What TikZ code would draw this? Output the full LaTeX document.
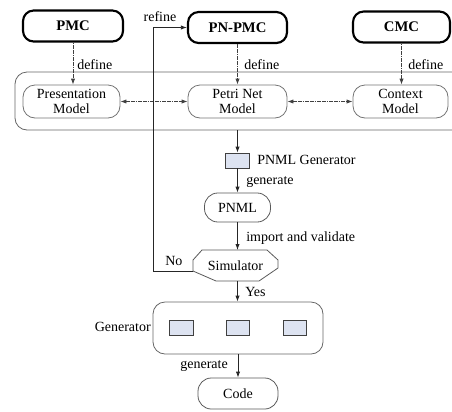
\documentclass[tikz,border=0pt]{standalone}
\usepackage{fontspec}
\setmainfont{Liberation Serif}
\usetikzlibrary{arrows.meta}
\definecolor{toolfill}{HTML}{DDE3F1}
\begin{document}
\begin{tikzpicture}[x=0.75pt,y=-0.75pt,
  font=\fontsize{10.5}{11.5}\selectfont,
  every node/.style={inner sep=0pt},
  concept/.style={draw, line width=1.6pt, rounded corners=8pt,
    font=\fontsize{11}{12}\selectfont\bfseries, minimum height=23.25pt},
  model/.style={draw=black!55, line width=0.6pt, rounded corners=9pt,
    align=center, minimum height=24.75pt},
  group/.style={draw=black!60, line width=0.6pt, rounded corners=9pt},
  term/.style={draw=black!65, line width=0.6pt, rounded corners=10pt},
  tool/.style={draw=black!75, fill=toolfill, line width=0.6pt,
    minimum width=17.5pt, minimum height=11.25pt},
  tip/.tip={Latex[length=4.5pt,width=3.2pt]},
  flow/.style={-tip, line width=0.6pt, draw=black!85},
  defarrow/.style={-tip, line width=0.6pt, draw=black!75,
    dash pattern=on 1.3pt off 0.5pt},
  lbl/.style={anchor=west}
]
\useasboundingbox (0,0) rectangle (452,411);
\clip (0,0) rectangle (452,411);

% concept models
\node[concept, minimum width=75pt]    (pmc)   at (73,26)    {PMC};
\node[concept, minimum width=74.25pt] (pnpmc) at (237.5,27.5) {PN-PMC};
\node[concept, minimum width=72.75pt] (cmc)   at (401.5,27) {CMC};

% model group
\node[group, minimum width=341.25pt, minimum height=43.5pt] (modelgroup) at (242.5,101) {};
\node[model, minimum width=72.75pt] (pres)  at (71.5,101.5)  {Presentation\\Model};
\node[model, minimum width=74.25pt] (petri) at (237.5,101.5) {Petri Net\\Model};
\node[model, minimum width=71.25pt] (ctx)   at (400.5,101.5) {Context\\Model};

\draw[defarrow] (pmc.south) -- (pmc.south |- pres.north);
\draw[defarrow] (pnpmc) -- (petri);
\draw[defarrow] (cmc.south) -- (cmc.south |- ctx.north);
\draw[defarrow, tip-tip] (pres) -- (petri);
\draw[defarrow, tip-tip] (petri) -- (ctx);

\node[lbl] at (77,65)  {define};
\node[lbl] at (244,65) {define};
\node[lbl] at (408,65) {define};

% PNML generation chain
\node[tool] (pngen) at (237.5,160.5) {};
\node[lbl] at (257,160) {PNML Generator};
\node[term, minimum width=49.5pt, minimum height=21.75pt] (pnml) at (237.5,207.5) {PNML};

\draw[flow] (pngen |- modelgroup.south) -- (pngen);
\draw[flow] (pngen) -- (pnml);
\node[lbl] at (246,182) {generate};

% simulator
\draw[draw=black!65, line width=0.6pt]
  (202,250) -- (267,250) -- (278,260) -- (278,268) -- (259,281)
  -- (216,281) -- (193,271) -- (193,260) -- cycle;
\node[minimum width=63.75pt, minimum height=23.25pt] (sim) at (235.5,265.5) {Simulator};
\coordinate (simleft) at (193,271);

\draw[flow] (pnml) -- (pnml |- 0,250);
\node[lbl] at (246,238) {import and validate};

\draw[flow] (simleft) -- ++(-40,0) |- (pnpmc.west);
\node at (160,17) {refine};
\node[lbl] at (165,261) {No};

% code generator
\node[group, minimum width=127.5pt, minimum height=39pt] (gencont) at (238,328) {};
\node[tool] (g1) at (181.5,327.5) {};
\node[tool] (g2) at (238,327.5) {};
\node[tool] (g3) at (295,327.5) {};
\node[anchor=east] at (151,327) {Generator};

\draw[flow] (pnml |- 0,281) -- (pnml |- gencont.north);
\node[lbl] at (245,292) {Yes};

\node[term, minimum width=60pt, minimum height=23.25pt] (code) at (238,393.5) {Code};
\draw[flow] (gencont) -- (code);
\node[anchor=east] at (228,366) {generate};
\end{tikzpicture}
\end{document}
